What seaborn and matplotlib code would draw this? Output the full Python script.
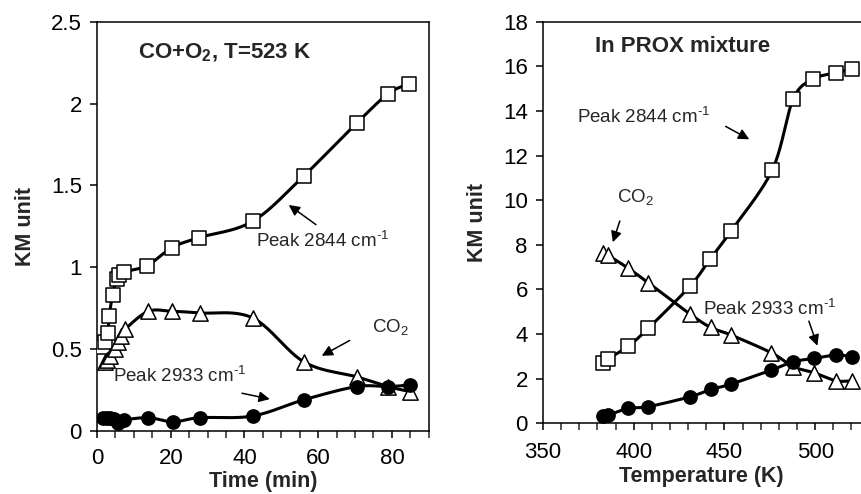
import numpy as np
import pandas as pd
import matplotlib
matplotlib.use("Agg")
import matplotlib.pyplot as plt
import seaborn as sns
from matplotlib.ticker import MultipleLocator, FuncFormatter

# ---------------- data: left panel (CO+O2, T=523 K) ----------------
t_2844 = [1.7, 2.2, 2.9, 3.3, 4.2, 5.3, 6.0, 7.2, 13.6, 20.4, 27.6, 42.2, 56.2, 70.4, 79.0, 84.6]
v_2844 = [0.51, 0.54, 0.60, 0.70, 0.83, 0.93, 0.95, 0.97, 1.01, 1.12, 1.18, 1.28, 1.56, 1.88, 2.06, 2.12]

t_co2 = [2.2, 2.7, 3.6, 4.8, 5.6, 6.6, 7.6, 13.9, 20.4, 27.9, 42.2, 56.2, 70.4, 79.0, 84.8]
v_co2 = [0.42, 0.43, 0.46, 0.50, 0.54, 0.58, 0.62, 0.73, 0.73, 0.72, 0.69, 0.42, 0.33, 0.27, 0.24]

t_2933 = [1.7, 2.6, 3.5, 4.6, 5.8, 7.2, 13.9, 20.6, 27.9, 42.2, 56.2, 70.4, 79.0, 84.8]
v_2933 = [0.08, 0.08, 0.075, 0.07, 0.05, 0.065, 0.08, 0.055, 0.08, 0.09, 0.19, 0.27, 0.27, 0.28]

# ---------------- data: right panel (In PROX mixture) ----------------
T_2844 = [382.9, 385.6, 397.0, 408.0, 431.0, 442.0, 453.6, 476.3, 487.9, 498.9, 511.4, 520.1]
V_2844 = [2.72, 2.88, 3.46, 4.26, 6.15, 7.35, 8.62, 11.35, 14.54, 15.43, 15.71, 15.88]

T_co2 = [382.9, 385.6, 397.0, 408.0, 431.0, 442.4, 453.6, 475.9, 487.9, 499.3, 511.4, 520.1]
V_co2 = [7.65, 7.54, 6.95, 6.30, 4.90, 4.30, 3.96, 3.16, 2.54, 2.27, 1.91, 1.91]

T_2933 = [382.9, 385.9, 397.0, 408.0, 431.0, 442.4, 453.6, 475.9, 487.9, 499.3, 511.4, 520.1]
V_2933 = [0.33, 0.37, 0.67, 0.75, 1.19, 1.52, 1.76, 2.39, 2.76, 2.91, 3.06, 2.99]

sns.set_style("ticks")
plt.rcParams["font.family"] = ["Liberation Sans", "DejaVu Sans"]
plt.rcParams["mathtext.fontset"] = "custom"
plt.rcParams["mathtext.rm"] = "Liberation Sans"
plt.rcParams["mathtext.bf"] = "Liberation Sans:bold"

TICK_FS = 16
LAB_FS = 15.5
TITLE_FS = 16
ANN_FS = 13.5
LW = 2.2
PEAK = r"Peak {} cm$^{{\text{{-1}}}}$"


def smooth(x, y, n=24):
    """Excel-style smoothed path (uniform Catmull-Rom) through the data."""
    P = np.column_stack([x, y]).astype(float)
    P = np.vstack([P[0], P, P[-1]])
    out = []
    s = np.linspace(0, 1, n, endpoint=False)
    for i in range(1, len(P) - 2):
        p0, p1, p2, p3 = P[i - 1], P[i], P[i + 1], P[i + 2]
        c1 = p1 + (p2 - p0) / 6.0
        c2 = p2 - (p3 - p1) / 6.0
        b = ((1 - s) ** 3)[:, None] * p1 + (3 * (1 - s) ** 2 * s)[:, None] * c1 \
            + (3 * (1 - s) * s ** 2)[:, None] * c2 + (s ** 3)[:, None] * p2
        out.append(b)
    out.append(P[-2][None, :])
    out = np.vstack(out)
    return out[:, 0], out[:, 1]


def series(ax, x, y, marker, face, ms):
    sx, sy = smooth(x, y)
    sns.lineplot(x=sx, y=sy, sort=False, estimator=None, color="black",
                 lw=LW, ax=ax, zorder=2)
    sns.scatterplot(x=x, y=y, marker=marker, s=ms ** 2, facecolor=face,
                    edgecolor="black", linewidth=1.1, ax=ax, zorder=3)


ARW = dict(arrowstyle="-|>", color="black", lw=1.1, mutation_scale=16)

fig = plt.figure(figsize=(8.61, 4.94), dpi=100)
axL = fig.add_axes([0.1127, 0.128, 0.498 - 0.1127, 0.956 - 0.128])
axR = fig.add_axes([0.6307, 0.143, 0.9995 - 0.6307, 0.956 - 0.143])

# left panel
series(axL, t_2844, v_2844, "s", "white", 10.5)
series(axL, t_co2, v_co2, "^", "white", 11)
series(axL, t_2933, v_2933, "o", "black", 9.5)
axL.set_xlim(0, 90)
axL.set_ylim(0, 2.5)
axL.set_xticks([0, 20, 40, 60, 80])
axL.xaxis.set_minor_locator(MultipleLocator(5))
axL.yaxis.set_major_locator(MultipleLocator(0.5))
axL.set_xlabel("Time (min)", fontsize=LAB_FS, fontweight="bold")
axL.set_ylabel("KM unit", fontsize=LAB_FS, fontweight="bold")
axL.xaxis.set_label_coords(0.5, -0.124)
axL.xaxis.label.set_va("center")
axL.yaxis.set_label_coords(-0.215, 0.5)
axL.yaxis.label.set_va("center")
axL.text(11.1, 2.31, r"CO+O$_\mathbf{2}$, T=523 K", fontsize=TITLE_FS, fontweight="bold",
         va="center", ha="left")
axL.annotate("", xy=(51.4, 1.39), xytext=(60, 1.25), arrowprops=ARW)
axL.text(43.2, 1.16, PEAK.format(2844), fontsize=ANN_FS, va="center", ha="left")
axL.annotate("", xy=(60.3, 0.45), xytext=(69.2, 0.56), arrowprops=ARW)
axL.text(74.6, 0.63, r"CO$_2$", fontsize=ANN_FS, va="center", ha="left")
axL.annotate("", xy=(47.6, 0.19), xytext=(38.6, 0.233), arrowprops=ARW)
axL.text(4.4, 0.34, PEAK.format(2933), fontsize=ANN_FS, va="center", ha="left")

# right panel
series(axR, T_2844, V_2844, "s", "white", 10.5)
series(axR, T_co2, V_co2, "^", "white", 11)
series(axR, T_2933, V_2933, "o", "black", 9.5)
axR.set_xlim(350, 525)
axR.set_ylim(0, 18)
axR.set_xticks([350, 400, 450, 500])
axR.xaxis.set_minor_locator(MultipleLocator(10))
axR.yaxis.set_major_locator(MultipleLocator(2))
axR.set_xlabel("Temperature (K)", fontsize=LAB_FS, fontweight="bold")
axR.set_ylabel("KM unit", fontsize=LAB_FS, fontweight="bold")
axR.xaxis.set_label_coords(0.5, -0.132)
axR.xaxis.label.set_va("center")
axR.yaxis.set_label_coords(-0.207, 0.5)
axR.yaxis.label.set_va("center")
axR.spines["right"].set_visible(False)
axR.text(378.6, 16.88, "In PROX mixture", fontsize=TITLE_FS, fontweight="bold",
         va="center", ha="left")
axR.annotate("", xy=(465, 12.67), xytext=(449.3, 13.37), arrowprops=ARW)
axR.text(368.6, 13.77, PEAK.format(2844), fontsize=ANN_FS, va="center", ha="left")
axR.annotate("", xy=(388, 8.0), xytext=(392.8, 9.19), arrowprops=ARW)
axR.text(390.6, 10.1, r"CO$_2$", fontsize=ANN_FS, va="center", ha="left")
axR.annotate("", xy=(501.7, 3.36), xytext=(496.0, 4.7), arrowprops=ARW)
axR.text(438.3, 5.15, PEAK.format(2933), fontsize=ANN_FS, va="center", ha="left")

fmt = FuncFormatter(lambda v, p: f"{v:g}")
for ax, xpad in ((axL, 7.5), (axR, 8.5)):
    ax.yaxis.set_major_formatter(fmt)
    ax.tick_params(axis="both", which="major", labelsize=TICK_FS, length=5, width=1.1,
                   direction="out", colors="black")
    ax.tick_params(axis="y", which="major", pad=6)
    ax.tick_params(axis="x", which="major", pad=xpad)
    ax.tick_params(axis="x", which="minor", length=5, width=1.1, direction="out")
    for sp in ax.spines.values():
        sp.set_linewidth(1.1)
        sp.set_color("black")
    if ax.get_legend():
        ax.get_legend().remove()

fig.savefig("out.png", dpi=100)
